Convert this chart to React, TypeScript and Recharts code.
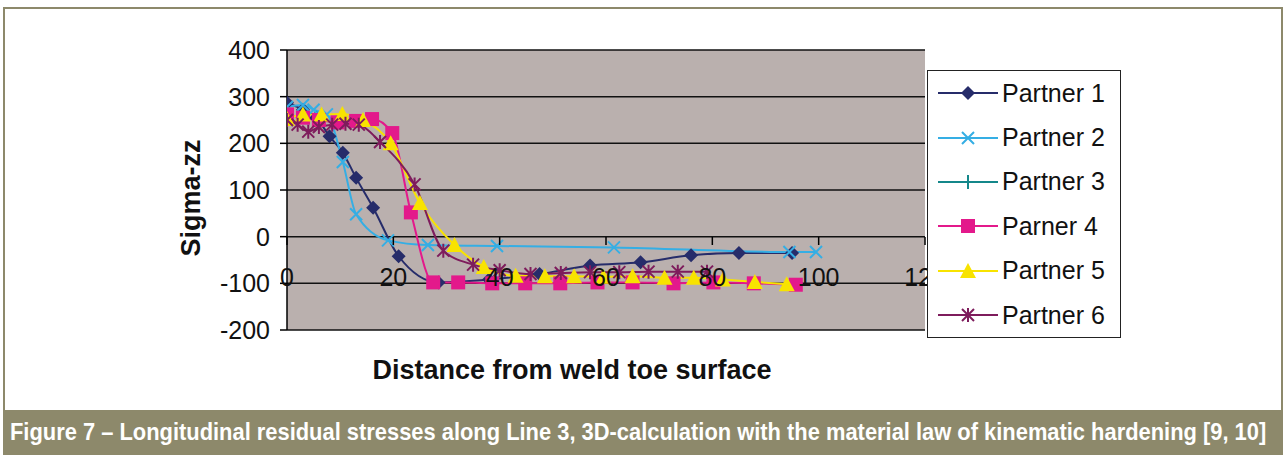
import React from "react";
import { LineChart, Line, XAxis, YAxis, CartesianGrid, Legend } from "recharts";

// distance from weld toe surface / sigma-zz
const p1Dist = [0, 3, 5.5, 8, 10.5, 13, 16.2, 21, 28.5, 38, 47.5, 57, 66.5, 76, 85, 95];
const p1Sigma = [287, 272, 255, 215, 180, 126, 62, -42, -98, -92, -80, -62, -55, -40, -35, -35];

const p2Dist = [0, 3, 5, 7.5, 10.5, 13, 19, 26.5, 39.5, 61.5, 94.5, 99.5];
const p2Sigma = [278, 282, 272, 262, 160, 48, -8, -18, -20, -23, -33, -33];

// partner 3 is in the legend but no curve is visible
const p3Dist: number[] = [];
const p3Sigma: number[] = [];

const p4Dist = [0, 3, 6, 9.5, 13, 16, 19.8, 23.3, 27.5, 32.2, 38.6, 44.8, 51.4, 58.4, 65, 72.7, 80.2, 87.8, 95.7];
const p4Sigma = [262, 255, 250, 245, 248, 252, 222, 52, -98, -98, -100, -100, -100, -98, -98, -100, -98, -100, -103];

const p5Dist = [0, 3, 6.5, 10.4, 14.3, 19.5, 25, 31.5, 37, 43, 48.5, 54, 59.5, 65, 71, 76.5, 82, 88, 94];
const p5Sigma = [252, 262, 262, 263, 250, 200, 72, -18, -65, -84, -85, -85, -86, -85, -88, -88, -92, -97, -102];

const p6Dist = [0, 2, 4, 6, 8.5, 11, 13.5, 17.5, 24, 29.4, 35, 40, 45.8, 51.5, 57, 62.5, 68, 73.5, 79];
const p6Sigma = [250, 240, 225, 235, 240, 242, 240, 203, 112, -30, -60, -72, -80, -78, -76, -76, -75, -75, -75];

const seriesNames = ["Partner 1", "Partner 2", "Partner 3", "Parner 4", "Partner 5", "Partner 6"];
const seriesColors = ["#262c6a", "#35aee4", "#14878a", "#e3198b", "#f8e300", "#7e1c5c"];
const seriesShapes = ["diamond", "cross", "plus", "square", "triangle", "star"];

const xTicks = [0, 20, 40, 60, 80, 100, 120];
const yTicks = [-200, -100, 0, 100, 200, 300, 400];

const toPoints = (xs: number[], ys: number[]) => xs.map((x, i) => ({ x, y: ys[i] }));
const seriesData = [
  toPoints(p1Dist, p1Sigma),
  toPoints(p2Dist, p2Sigma),
  toPoints(p3Dist, p3Sigma),
  toPoints(p4Dist, p4Sigma),
  toPoints(p5Dist, p5Sigma),
  toPoints(p6Dist, p6Sigma),
];

const FONT = "'Liberation Sans', Arial, sans-serif";

function Marker({ kind, cx, cy, color }: { kind: string; cx: number; cy: number; color: string }) {
  if (cx == null || cy == null) return null;
  switch (kind) {
    case "diamond":
      return <path d={`M${cx},${cy - 7} L${cx + 7},${cy} L${cx},${cy + 7} L${cx - 7},${cy} Z`} fill={color} />;
    case "square":
      return <rect x={cx - 7} y={cy - 7} width={14} height={14} fill={color} />;
    case "triangle":
      return <path d={`M${cx},${cy - 8} L${cx + 8},${cy + 7} L${cx - 8},${cy + 7} Z`} fill={color} />;
    case "cross":
      return (
        <path d={`M${cx - 6},${cy - 6} L${cx + 6},${cy + 6} M${cx - 6},${cy + 6} L${cx + 6},${cy - 6}`} stroke={color} strokeWidth={2} />
      );
    case "plus":
      return <path d={`M${cx},${cy - 7} L${cx},${cy + 7}`} stroke={color} strokeWidth={2} />;
    case "star":
      return (
        <path
          d={`M${cx - 6},${cy - 6} L${cx + 6},${cy + 6} M${cx - 6},${cy + 6} L${cx + 6},${cy - 6} M${cx},${cy - 7} L${cx},${cy + 7}`}
          stroke={color}
          strokeWidth={2}
        />
      );
    default:
      return null;
  }
}

// x axis sits on the zero line, labels drawn below it
function XTick(props: any) {
  const { x, y, payload } = props;
  const zeroY = y - 93;
  return (
    <g>
      <line x1={x} x2={x} y1={zeroY} y2={zeroY + 8} stroke="#000" strokeWidth={1.5} />
      <text x={x} y={zeroY + 49} textAnchor="middle" fontSize={25} fontFamily={FONT} fill="#111">
        {payload.value}
      </text>
    </g>
  );
}

function LegendBox() {
  return (
    <div
      style={{
        width: 194,
        height: 268,
        background: "#fff",
        border: "1.5px solid #222",
        boxSizing: "border-box",
      }}
    >
      {seriesNames.map((name, idx) => (
        <div key={name} style={{ height: 44.4, display: "flex", alignItems: "center" }}>
          <svg width={70} height={20} style={{ marginLeft: 8 }}>
            <line x1={2} x2={62} y1={10} y2={10} stroke={seriesColors[idx]} strokeWidth={2} />
            <Marker kind={seriesShapes[idx]} cx={32} cy={10} color={seriesColors[idx]} />
          </svg>
          <span style={{ fontFamily: FONT, fontSize: 25, color: "#111", marginLeft: -4 }}>{name}</span>
        </div>
      ))}
    </div>
  );
}

export default function App() {
  return (
    <div style={{ position: "absolute", left: 0, top: 0, width: 1285, height: 455, background: "#fff", overflow: "hidden" }}>
      <div
        style={{
          position: "absolute",
          left: 3,
          top: 7,
          width: 1280,
          height: 404,
          border: "2px solid #8d896b",
          borderBottom: "none",
          boxSizing: "border-box",
        }}
      />
      <div style={{ position: "absolute", left: 0, top: 0 }}>
        <LineChart width={1285} height={455} margin={{ top: 50, right: 360, bottom: 105, left: 227 }}>
          <CartesianGrid horizontal vertical={false} stroke="#111" strokeWidth={1.5} fill="#bab0ae" fillOpacity={1} />
          <XAxis
            type="number"
            dataKey="x"
            domain={[0, 120]}
            ticks={xTicks}
            axisLine={false}
            tickLine={false}
            tickSize={0}
            tickMargin={0}
            height={20}
            tick={<XTick />}
            interval={0}
            allowDataOverflow
          />
          <YAxis
            type="number"
            domain={[-200, 400]}
            ticks={yTicks}
            width={60}
            axisLine={{ stroke: "#000", strokeWidth: 1.5 }}
            tickLine={{ stroke: "#000", strokeWidth: 1.5 }}
            tickSize={7}
            tickMargin={10}
            tick={{ fontSize: 25, fontFamily: FONT, fill: "#111" }}
            interval={0}
          />
          {seriesNames.map((name, i) => (
            <Line
              key={name}
              name={name}
              data={seriesData[i]}
              dataKey="y"
              type="monotone"
              stroke={seriesColors[i]}
              strokeWidth={2}
              isAnimationActive={false}
              dot={(p: any) => <Marker key={`${i}-${p.index}`} kind={seriesShapes[i]} cx={p.cx} cy={p.cy} color={seriesColors[i]} />}
              activeDot={false}
            />
          ))}
          <Legend
            layout="vertical"
            align="center"
            verticalAlign="middle"
            content={<LegendBox />}
            wrapperStyle={{ position: "absolute", left: 927, top: 70, width: 194, height: 268 }}
          />
        </LineChart>
      </div>
      <div
        style={{
          position: "absolute",
          left: 191,
          top: 198,
          transform: "translate(-50%, -50%) rotate(-90deg)",
          fontFamily: FONT,
          fontWeight: "bold",
          fontSize: 27,
          color: "#111",
          whiteSpace: "nowrap",
        }}
      >
        Sigma-zz
      </div>
      <div
        style={{
          position: "absolute",
          left: 572,
          top: 370,
          transform: "translate(-50%, -50%)",
          fontFamily: FONT,
          fontWeight: "bold",
          fontSize: 27,
          color: "#111",
          whiteSpace: "nowrap",
        }}
      >
        Distance from weld toe surface
      </div>
      <svg style={{ position: "absolute", left: 0, top: 410 }} width={1285} height={45}>
        <rect x={3} y={0} width={1280} height={45} fill="#8d896b" />
        <g transform="translate(10, 30) scale(1.095, 1.18)">
          <text x={0} y={0} fontFamily={FONT} fontWeight="bold" fontSize={20} fill="#fff">
            Figure 7 – Longitudinal residual stresses along Line 3, 3D-calculation with the material law of kinematic hardening [9, 10]
          </text>
        </g>
      </svg>
    </div>
  );
}
